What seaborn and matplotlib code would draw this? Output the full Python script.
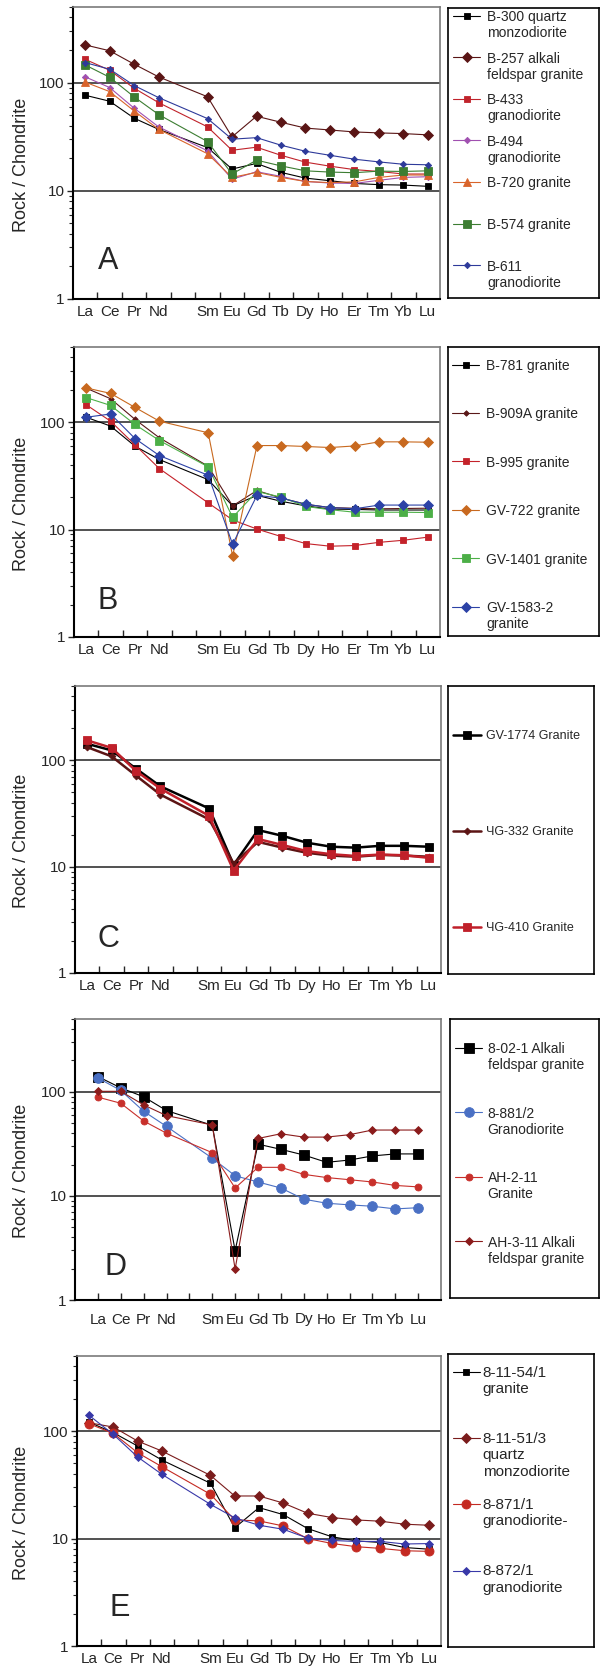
import numpy as np
import matplotlib
matplotlib.use("Agg")
import matplotlib.pyplot as plt
import seaborn as sns
from matplotlib.ticker import FixedLocator, FixedFormatter, LogLocator, NullFormatter

sns.set_style("white")
plt.rcParams['font.family'] = ['Liberation Sans', 'DejaVu Sans']

# ---------------- data ----------------
element_axis = ['La', 'Ce', 'Pr', 'Nd', 'Pm', 'Sm', 'Eu', 'Gd', 'Tb', 'Dy', 'Ho', 'Er', 'Tm', 'Yb', 'Lu']
measured = [e for e in element_axis if e != 'Pm']
axis_tick_labels = [e if e != 'Pm' else '' for e in element_axis]

# Panel A
a_names = ["B-300 quartz\nmonzodiorite", "B-257 alkali\nfeldspar granite", "B-433\ngranodiorite",
           "B-494\ngranodiorite", "B-720 granite", "B-574 granite", "B-611\ngranodiorite"]
a_b300 = [76.4, 67.3, 46.9, 37.0, 25.1, 15.9, 17.9, 14.8, 13.1, 12.4, 11.7, 11.4, 11.3, 11.0]
a_b257 = [223, 197, 148, 113, 74, 31.5, 48.9, 43, 38, 36.5, 35, 34.3, 33.8, 32.9]
a_b433 = [164, 130, 88.7, 65.3, 39, 23.7, 25.3, 21.3, 18.4, 16.9, 15.7, 15.1, 14.3, 14.3]
a_b494 = [113, 90, 58, 39, 23.4, 12.8, 15.0, 13.6, 12.2, 11.8, 11.7, 12.5, 13.3, 13.5]
a_b720 = [101, 82.6, 54.7, 37, 22, 13.3, 14.8, 13.3, 12.2, 11.9, 12.1, 13.3, 14.0, 14.0]
a_b574 = [145.6, 112, 73.8, 50.7, 28.5, 14.3, 19.2, 17.0, 15.3, 14.9, 14.7, 15.2, 15.1, 15.3]
a_b611 = [153, 133, 94, 72.7, 46.5, 30, 31, 26.4, 23.2, 21.3, 19.6, 18.5, 17.6, 17.4]

# Panel B
b_names = ["B-781 granite", "B-909A granite", "B-995 granite", "GV-722 granite",
           "GV-1401 granite", "GV-1583-2\ngranite"]
b_b781 = [111, 91.8, 59.7, 44.8, 29.1, 16.6, 20.8, 18.3, 16.6, 15.5, 15.4, 15.2, 15.2, 15.2]
b_b909a = [207, 165, 106, 71.4, 38.8, 16.6, 23.1, 19.6, 17.2, 16.0, 15.8, 15.6, 15.7, 15.8]
b_b995 = [145, 102, 61.4, 36.9, 17.7, 12.3, 10.1, 8.6, 7.4, 7.0, 7.1, 7.6, 7.95, 8.5]
b_gv722 = [208, 185, 137, 102, 79.5, 5.67, 60.5, 60.5, 59.3, 58, 60, 65.5, 65.5, 65]
b_gv1401 = [169, 143, 95, 67.4, 38.3, 13.0, 22.6, 20.0, 16.4, 15.3, 14.5, 14.5, 14.5, 14.4]
b_gv1583 = [111, 119, 70.3, 48.8, 32, 7.3, 20.8, 19.6, 17.2, 16.0, 15.6, 16.9, 16.9, 16.9]

# Panel C
c_names = ["GV-1774 Granite", "ЧG-332 Granite", "ЧG-410 Granite"]
c_gv1774 = [143, 124, 83.5, 57, 35.2, 10.4, 22.1, 19.5, 16.8, 15.4, 15.1, 15.7, 15.7, 15.4]
c_cg332 = [133, 109, 71.8, 47.6, 27.8, 10.7, 17.1, 15.1, 13.5, 12.7, 12.4, 12.9, 12.7, 12.4]
c_cg410 = [154, 131, 79.4, 54.2, 30, 9.2, 18.2, 16.0, 14.0, 13.1, 12.6, 13.0, 12.8, 12.1]

# Panel D
d_names = ["8-02-1 Alkali\nfeldspar granite", "8-881/2\nGranodiorite", "AH-2-11\nGranite",
           "AH-3-11 Alkali\nfeldspar granite"]
d_8021 = [140, 109, 89.5, 66, 47.6, 2.98, 31.4, 28, 24.7, 21, 22.1, 24.2, 25.3, 25.3]
d_8881 = [135.6, 103, 65, 46.5, 23, 15.6, 13.6, 11.9, 9.3, 8.5, 8.2, 7.95, 7.5, 7.7]
d_ah211 = [88.8, 77.6, 52.4, 40, 26, 11.9, 18.8, 18.8, 16.1, 15.0, 14.3, 13.6, 12.6, 12.2]
d_ah311 = [101, 101, 74.8, 59, 48, 1.98, 35.6, 39.5, 36.7, 36.7, 38.7, 42.9, 42.9, 42.9]

# Panel E
e_names = ["8-11-54/1\ngranite", "8-11-51/3\nquartz\nmonzodiorite", "8-871/1\ngranodiorite-",
           "8-872/1\ngranodiorite"]
e_81154 = [121, 96.6, 72.6, 53.8, 32.7, 12.6, 19.4, 16.7, 12.4, 10.4, 9.5, 9.2, 8.25, 7.96]
e_81151 = [119.5, 109, 80.8, 65.2, 38.7, 24.9, 24.9, 21.4, 17.2, 15.7, 14.9, 14.5, 13.6, 13.3]
e_8871 = [117, 95, 62.9, 46.6, 25.8, 14.9, 14.6, 13.1, 10.0, 9.0, 8.4, 8.1, 7.7, 7.6]
e_8872 = [140, 93, 57.4, 39.6, 20.8, 15.6, 13.3, 12.2, 10.1, 9.6, 9.4, 9.4, 8.9, 8.98]

# ---------------- layout helpers ----------------
W, H = 601, 1673
fig = plt.figure(figsize=(W / 100, H / 100), dpi=100)


def px_rect(x0, y0, x1, y1):
    return [x0 / W, 1 - y1 / H, (x1 - x0) / W, (y1 - y0) / H]


xpos = [element_axis.index(e) for e in measured]


def draw_panel(ax_box, leg_box, series, letter, letter_xy, centered_ticks, leg_opts):
    ax = fig.add_axes(px_rect(*ax_box))
    for vals, name, color, marker, ms, lw in series:
        sns.lineplot(x=xpos, y=vals, ax=ax, color=color, marker=marker, markersize=ms,
                     markeredgecolor=color, markeredgewidth=0.6, linewidth=lw,
                     label=name, legend=False, errorbar=None)
    ax.set_yscale('log')
    ax.set_ylim(1, 500)
    ax.yaxis.set_major_locator(FixedLocator([1, 10, 100]))
    ax.yaxis.set_major_formatter(FixedFormatter(['1', '10', '100']))
    ax.yaxis.set_minor_locator(LogLocator(base=10, subs=np.arange(2, 10)))
    ax.yaxis.set_minor_formatter(NullFormatter())
    ax.tick_params(axis='y', which='major', direction='out', length=4, width=1, labelsize=11, pad=2, left=True)
    ax.tick_params(axis='y', which='minor', direction='out', length=3, width=0.8, left=True)
    ax.yaxis.grid(True, which='major', color='#222222', linewidth=1.1)
    ax.xaxis.grid(False)
    n = len(element_axis)
    ax.set_xticks(range(n))
    ax.set_xticklabels(axis_tick_labels)
    if centered_ticks:
        ax.set_xlim(-0.5, n - 0.5)
        ax.set_xticks(np.arange(0.5, n - 1, 1), minor=True)
        ax.tick_params(axis='x', which='major', length=0, labelsize=11, pad=4)
        ax.tick_params(axis='x', which='minor', direction='in', length=5, width=1, bottom=True)
    else:
        ax.set_xlim(-1, n)
        ax.tick_params(axis='x', which='major', direction='in', length=5, width=1, bottom=True,
                       labelsize=11, pad=9)
    ax.set_xlabel('')
    ax.set_ylabel('Rock / Chondrite', fontsize=13)
    ax.yaxis.set_label_coords((30 - ax_box[0]) / (ax_box[2] - ax_box[0]), 0.46)
    for s in ['left', 'bottom']:
        ax.spines[s].set_color('black')
        ax.spines[s].set_linewidth(1.5)
    for s in ['top', 'right']:
        ax.spines[s].set_color('#7a7a7a')
        ax.spines[s].set_linewidth(1.2)
    ax.text(letter_xy[0], letter_xy[1], letter, transform=ax.transAxes, fontsize=22,
            ha='center', va='center')

    handles, labels = ax.get_legend_handles_labels()
    lax = fig.add_axes(px_rect(*leg_box))
    lax.set_xticks([])
    lax.set_yticks([])
    for s in lax.spines.values():
        s.set_color('black')
        s.set_linewidth(1.2)
        s.set_visible(True)
    bw = leg_box[2] - leg_box[0]
    bh = leg_box[3] - leg_box[1]
    nlines = leg_opts['nlines']
    padded = [lab + '\n ' * (nlines - lab.count('\n') - 1) for lab in labels]
    leg = lax.legend(handles, padded, loc='upper left',
                     bbox_to_anchor=(leg_opts['x'] / bw, 1 - leg_opts['y'] / bh),
                     frameon=False, fontsize=leg_opts['fs'], labelspacing=leg_opts['sp'],
                     handlelength=leg_opts['hl'], handletextpad=leg_opts['htp'],
                     handleheight=1.1, borderpad=0, borderaxespad=0, numpoints=1)
    for col in leg._legend_handle_box.get_children():
        for row in col.get_children():
            row.align = 'top'
    return ax


BLK = '#000000'

draw_panel((73, 7, 440, 299), (448, 8, 599, 298), [
    (a_b300, a_names[0], BLK, 's', 5.0, 0.8),
    (a_b257, a_names[1], '#5a1515', 'D', 5.5, 0.8),
    (a_b433, a_names[2], '#c0232b', 's', 5.0, 0.8),
    (a_b494, a_names[3], '#a050b0', 'D', 3.2, 0.8),
    (a_b720, a_names[4], '#d9642b', '^', 5.5, 0.8),
    (a_b574, a_names[5], '#3c7d32', 's', 5.5, 0.8),
    (a_b611, a_names[6], '#2e3a9a', 'D', 3.2, 0.8),
], 'A', (0.095, 0.13), True, dict(nlines=2, x=5, y=2, fs=10, sp=0.82, hl=1.95, htp=0.5))

draw_panel((74, 347, 440, 637), (448, 347, 599, 636), [
    (b_b781, b_names[0], BLK, 's', 4.8, 0.8),
    (b_b909a, b_names[1], '#5a1818', 'D', 2.8, 0.8),
    (b_b995, b_names[2], '#c4222a', 's', 4.8, 0.8),
    (b_gv722, b_names[3], '#c8691f', 'D', 4.6, 0.8),
    (b_gv1401, b_names[4], '#4caf47', 's', 5.3, 0.8),
    (b_gv1583, b_names[5], '#2c42a6', 'D', 4.6, 0.8),
], 'B', (0.093, 0.124), True, dict(nlines=2, x=4, y=12, fs=10, sp=1.31, hl=1.95, htp=0.5))

draw_panel((75, 686, 441, 973), (448, 686, 594, 974), [
    (c_gv1774, c_names[0], BLK, 's', 5.5, 1.8),
    (c_cg332, c_names[1], '#5c1414', 'D', 3.5, 1.8),
    (c_cg410, c_names[2], '#c0202a', 's', 5.5, 1.8),
], 'C', (0.09, 0.118), True, dict(nlines=1, x=5, y=44, fs=9, sp=6.7, hl=2.2, htp=0.4))

draw_panel((75, 1019, 441, 1300), (450, 1019, 599, 1298), [
    (d_8021, d_names[0], BLK, 's', 6.5, 0.8),
    (d_8881, d_names[1], '#4a70c4', 'o', 7.0, 0.8),
    (d_ah211, d_names[2], '#c8302b', 'o', 5.0, 0.8),
    (d_ah311, d_names[3], '#8b1c1c', 'D', 4.0, 0.8),
], 'D', (0.112, 0.117), False, dict(nlines=2, x=5, y=23, fs=10, sp=2.47, hl=1.95, htp=0.4))

draw_panel((77, 1356, 441, 1646), (448, 1354, 594, 1647), [
    (e_81154, e_names[0], BLK, 's', 4.3, 0.8),
    (e_81151, e_names[1], '#7a1c1c', 'D', 4.6, 0.8),
    (e_8871, e_names[2], '#c42a22', 'o', 6.5, 0.8),
    (e_8872, e_names[3], '#3838a8', 'D', 4.2, 0.8),
], 'E', (0.118, 0.131), True, dict(nlines=3, x=5, y=12, fs=11, sp=1.29, hl=1.75, htp=0.2))

fig.savefig('out.png', dpi=100)
